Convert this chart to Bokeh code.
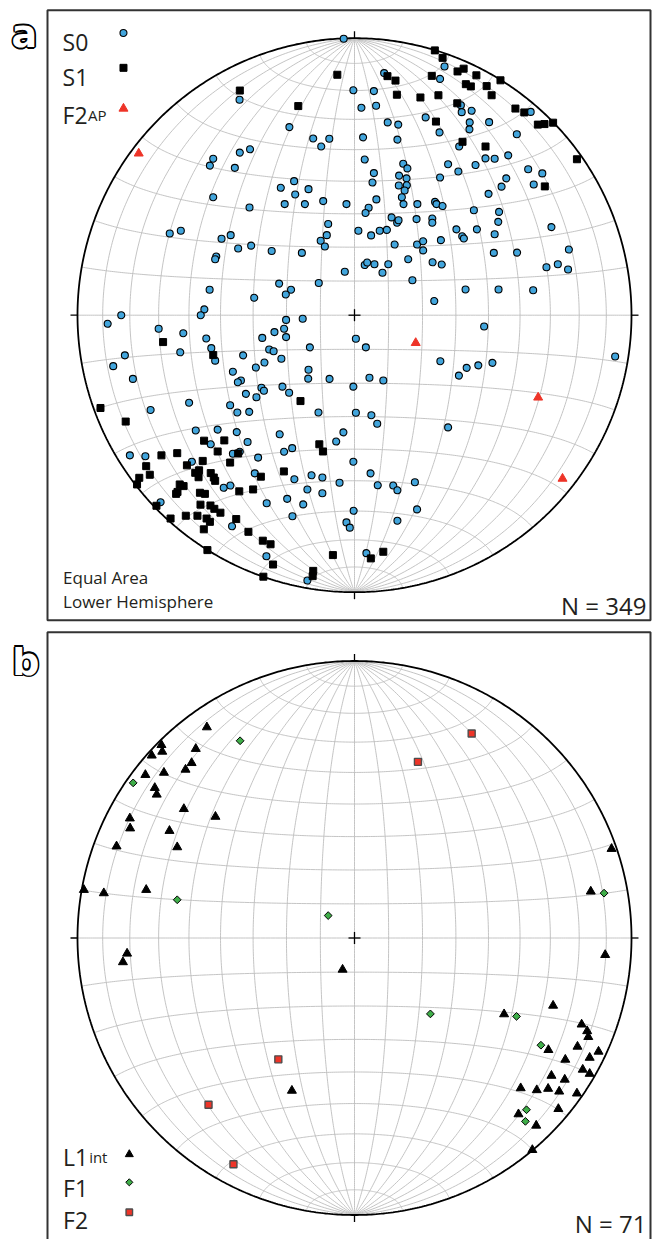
import numpy as np
from bokeh.plotting import figure
from bokeh.layouts import column
from bokeh.core.properties import value
from bokeh.embed import file_html
from bokeh.resources import INLINE

# ---------------- data: equal-area net coordinates (primitive circle radius = 1) -------------
# panel a : S0 poles
s0_x = [-0.039, -0.004, -0.415, -0.235, -0.149, -0.091, -0.120, -0.414, -0.377, -0.510,
        -0.522, -0.432, -0.218, -0.266, -0.166, -0.214, -0.252, -0.179, -0.113, -0.029,
        -0.510, -0.379, 0.107, 0.325, 0.309, 0.070, 0.025, 0.078, 0.384, 0.387,
        0.423, 0.257, 0.120, 0.158, 0.416, 0.415, 0.486, 0.636, 0.307, 0.586,
        0.031, 0.155, 0.378, 0.473, 0.506, 0.555, 0.037, 0.176, 0.191, 0.338,
        0.437, 0.375, 0.070, 0.161, 0.188, 0.065, 0.160, 0.189, 0.181, 0.171,
        0.309, 0.627, 0.678, 0.548, 0.531, 0.647, 0.484, 0.079, 0.177, 0.227,
        0.291, 0.296, 0.318, 0.051, 0.040, 0.431, 0.522, -0.667, -0.627, -0.480,
        -0.447, -0.420, -0.373, -0.299, -0.190, -0.095, -0.100, -0.122, -0.107, -0.499,
        -0.503, -0.035, -0.272, -0.229, -0.248, -0.129, -0.523, -0.362, -0.542, -0.555,
        -0.842, -0.891, -0.707, -0.618, -0.247, -0.187, -0.254, -0.289, -0.247, -0.333,
        -0.535, -0.517, -0.503, -0.629, -0.829, -0.871, -0.800, -0.308, -0.292, -0.161,
        -0.402, -0.264, -0.325, -0.356, -0.439, -0.410, -0.421, -0.166, -0.167, -0.090,
        -0.336, -0.327, -0.260, -0.236, -0.392, -0.354, -0.597, -0.449, -0.736, -0.423,
        -0.380, -0.130, -0.004, 0.134, 0.154, 0.159, 0.224, 0.281, 0.281, 0.014,
        0.060, 0.091, 0.117, 0.368, 0.389, 0.395, 0.442, 0.506, 0.519, 0.711,
        0.145, 0.226, 0.248, 0.248, 0.312, 0.503, 0.587, 0.774, 0.037, 0.046,
        0.072, 0.122, 0.101, 0.194, 0.282, 0.315, 0.693, 0.734, 0.771, 0.209,
        0.401, 0.520, 0.645, 0.288, 0.468, 0.005, 0.041, 0.310, 0.377, 0.405,
        0.447, 0.498, 0.941, 0.054, 0.104, 0.005, 0.061, -0.573, -0.494, -0.425,
        -0.270, -0.040, -0.066, -0.519, -0.386, -0.811, -0.755, -0.587, -0.439, -0.414,
        -0.254, -0.225, -0.348, -0.004, -0.360, -0.217, -0.155, -0.116, -0.054, -0.472,
        -0.448, -0.170, -0.116, -0.243, -0.317, -0.185, -0.700, -0.003, -0.224, -0.442,
        -0.029, -0.017, -0.318, -0.170, 0.082, 0.338, 0.058, 0.084, 0.140, 0.155,
        0.218, 0.226, 0.155, 0.043]
s0_y = [0.998, 0.812, 0.778, 0.679, 0.638, 0.637, 0.609, 0.587, 0.599, 0.565,
        0.540, 0.532, 0.484, 0.460, 0.455, 0.436, 0.401, 0.401, 0.412, 0.401,
        0.426, 0.389, 0.874, 0.898, 0.853, 0.809, 0.749, 0.756, 0.758, 0.733,
        0.738, 0.714, 0.696, 0.688, 0.696, 0.671, 0.697, 0.734, 0.660, 0.653,
        0.642, 0.634, 0.609, 0.566, 0.565, 0.577, 0.562, 0.547, 0.530, 0.545,
        0.542, 0.519, 0.513, 0.504, 0.494, 0.479, 0.468, 0.469, 0.450, 0.426,
        0.497, 0.527, 0.512, 0.494, 0.464, 0.472, 0.438, 0.418, 0.401, 0.401,
        0.409, 0.401, 0.394, 0.388, 0.369, 0.379, 0.373, 0.295, 0.305, 0.276,
        0.289, 0.241, 0.251, 0.232, 0.225, 0.329, 0.289, 0.269, 0.248, 0.212,
        0.202, 0.157, 0.114, 0.092, 0.075, 0.116, 0.092, 0.063, 0.021, 0.000,
        0.000, -0.031, -0.049, -0.065, -0.017, -0.013, -0.049, -0.061, -0.079, -0.082,
        -0.084, -0.119, -0.164, -0.134, -0.145, -0.184, -0.230, -0.124, -0.130, -0.116,
        -0.145, -0.157, -0.171, -0.189, -0.204, -0.236, -0.242, -0.197, -0.229, -0.230,
        -0.262, -0.273, -0.258, -0.280, -0.284, -0.296, -0.316, -0.325, -0.342, -0.351,
        -0.349, -0.351, -0.258, 0.353, 0.334, 0.343, 0.347, 0.349, 0.334, 0.305,
        0.288, 0.305, 0.308, 0.310, 0.285, 0.277, 0.310, 0.292, 0.337, 0.318,
        0.255, 0.255, 0.267, 0.234, 0.271, 0.225, 0.226, 0.237, 0.181, 0.190,
        0.184, 0.184, 0.153, 0.202, 0.191, 0.183, 0.173, 0.184, 0.165, 0.126,
        0.093, 0.093, 0.090, 0.051, -0.041, -0.085, -0.116, -0.166, -0.218, -0.190,
        -0.181, -0.172, -0.149, -0.226, -0.236, -0.352, -0.361, -0.416, -0.413, -0.422,
        -0.430, -0.423, -0.456, -0.466, -0.458, -0.506, -0.509, -0.529, -0.500, -0.493,
        -0.493, -0.480, -0.514, -0.529, -0.571, -0.592, -0.578, -0.586, -0.605, -0.623,
        -0.615, -0.629, -0.643, -0.663, -0.679, -0.683, -0.675, -0.706, -0.726, -0.762,
        -0.748, -0.767, -0.870, -0.958, -0.392, -0.405, -0.571, -0.614, -0.615, -0.632,
        -0.603, -0.701, -0.742, -0.859]

# panel a : S1 poles
s1_x = [-0.414, -0.203, -0.062, 0.290, 0.318, 0.372, 0.394, 0.440, 0.527, 0.279,
        0.119, 0.148, 0.402, 0.420, 0.477, 0.495, 0.153, 0.238, 0.303, 0.371,
        0.581, 0.613, 0.662, 0.686, 0.717, 0.294, 0.390, 0.473, 0.803, 0.687,
        -0.691, -0.510, -0.917, -0.195, -0.826, -0.697, -0.640, -0.543, -0.470, -0.494,
        -0.548, -0.449, -0.420, -0.605, -0.752, -0.739, -0.777, -0.785, -0.575, -0.561,
        -0.563, -0.519, -0.508, -0.503, -0.338, -0.255, -0.127, -0.114, -0.631, -0.617,
        -0.639, -0.644, -0.558, -0.540, -0.416, -0.366, -0.556, -0.520, -0.506, -0.484,
        -0.715, -0.664, -0.609, -0.567, -0.534, -0.522, -0.544, -0.427, -0.383, -0.331,
        -0.303, -0.531, -0.294, -0.329, -0.149, -0.151, -0.078, 0.059, 0.104]
s1_y = [0.811, 0.755, 0.868, 0.956, 0.929, 0.880, 0.890, 0.866, 0.848, 0.864,
        0.863, 0.847, 0.834, 0.826, 0.827, 0.794, 0.796, 0.786, 0.794, 0.765,
        0.746, 0.732, 0.688, 0.690, 0.695, 0.699, 0.626, 0.609, 0.563, 0.465,
        -0.097, -0.144, -0.335, -0.310, -0.384, -0.506, -0.498, -0.453, -0.452, -0.492,
        -0.526, -0.532, -0.499, -0.542, -0.545, -0.576, -0.587, -0.611, -0.569, -0.560,
        -0.585, -0.570, -0.586, -0.598, -0.583, -0.564, -0.466, -0.492, -0.611, -0.617,
        -0.638, -0.645, -0.641, -0.645, -0.636, -0.629, -0.684, -0.687, -0.699, -0.713,
        -0.688, -0.734, -0.724, -0.724, -0.734, -0.746, -0.773, -0.736, -0.782, -0.814,
        -0.827, -0.848, -0.900, -0.944, -0.923, -0.942, -0.866, -0.878, -0.854]

# panel a : F2 axial planes
f2ap_x = [-0.779, 0.221, 0.663, 0.751]
f2ap_y = [0.584, -0.100, -0.297, -0.590]

# panel b : L1 intersection lineations
l1_x = [-0.533, -0.697, -0.694, -0.732, -0.573, -0.588, -0.610, -0.755, -0.688, -0.721,
        -0.714, -0.616, -0.502, -0.811, -0.810, -0.668, -0.859, -0.640, -0.977, -0.905,
        -0.752, 0.928, 0.853, -0.821, -0.836, -0.043, -0.226, 0.905, 0.717, 0.540,
        0.820, 0.840, 0.844, 0.805, 0.881, 0.700, 0.761, 0.849, 0.824, 0.849,
        0.711, 0.759, 0.600, 0.658, 0.699, 0.739, 0.803, 0.736, 0.592, 0.656,
        0.642]
l1_y = [0.761, 0.697, 0.673, 0.659, 0.683, 0.632, 0.608, 0.589, 0.597, 0.542,
        0.518, 0.466, 0.438, 0.432, 0.396, 0.387, 0.331, 0.328, 0.174, 0.162,
        0.174, 0.322, 0.168, -0.056, -0.087, -0.114, -0.551, -0.061, -0.244, -0.275,
        -0.312, -0.336, -0.357, -0.392, -0.410, -0.404, -0.439, -0.432, -0.475, -0.490,
        -0.497, -0.511, -0.542, -0.549, -0.544, -0.554, -0.561, -0.617, -0.636, -0.677,
        -0.765]

# panel b : F1 and F2 fold axes
f1_x = [-0.413, -0.799, -0.640, -0.095, 0.901, 0.274, 0.585, 0.673, 0.621, 0.617]
f1_y = [0.712, 0.560, 0.138, 0.081, 0.162, -0.274, -0.283, -0.387, -0.620, -0.662]
f2_x = [0.423, 0.229, -0.275, -0.527, -0.437]
f2_y = [0.738, 0.636, -0.438, -0.602, -0.817]

labels_a = ["S0", "S1", "F2"]
labels_b = ["L1", "F1", "F2"]
n_a = "N = 349"
n_b = "N = 71"

# ---------------- styling / layout ----------------
FONT = "Open Sans"
INK = "#231f20"
GRID = "#bdbdbd"
BLUE = "#42a5dc"
RED = "#ee3428"
GREEN = "#3fae49"
SCALE = 277.0   # pixels per net radius
W = 656


def make_panel(height, cx, cy):
    p = figure(width=W, height=height,
               x_range=(-cx / SCALE, (W - cx) / SCALE),
               y_range=(-(height - cy) / SCALE, cy / SCALE),
               output_backend="svg", toolbar_location=None, tools="",
               x_axis_location=None, y_axis_location=None,
               min_border=0, outline_line_color=None)
    p.grid.visible = False
    p.background_fill_color = "white"
    p.border_fill_color = "white"
    return p


def draw_net(p):
    th = np.linspace(0, np.pi, 241)
    xs, ys = [], []
    for a in range(10, 180, 10):
        r = np.radians(a)
        # great circle through N and S poles
        e = np.sin(th) * np.cos(r)
        n = np.cos(th)
        d = np.sin(th) * np.sin(r)
        k = np.sqrt(1 + d)
        xs.append(e / k)
        ys.append(n / k)
        # small circle about the N-S axis
        e = np.sin(r) * np.cos(th)
        n = np.cos(r) * np.ones_like(th)
        d = np.sin(r) * np.sin(th)
        k = np.sqrt(1 + d)
        xs.append(e / k)
        ys.append(n / k)
    p.multi_line(xs, ys, line_color=GRID, line_width=0.9)
    t = np.linspace(0, 2 * np.pi, 721)
    p.line(np.cos(t), np.sin(t), line_color="black", line_width=1.8)
    tk = 7 / SCALE
    p.segment(x0=[0, 0, 1, -1], y0=[1, -1, 0, 0],
              x1=[0, 0, 1 + tk, -1 - tk], y1=[1 + tk, -1 - tk, 0, 0],
              line_color="black", line_width=1.3)
    c = 6 / SCALE
    p.segment(x0=[-c, 0], y0=[0, -c], x1=[c, 0], y1=[0, c],
              line_color="black", line_width=1.3)


def txt(p, x, y, s, size, align="left", baseline="alphabetic", color=INK):
    p.text(x=[x], y=[y], text=[s], text_font=value(FONT), text_font_size=value(size),
           text_align=align, text_baseline=baseline, text_color=color)


def outlined_label(p, x, y, s):
    offs = [(-1.6, 0), (1.6, 0), (0, -1.6), (0, 1.6), (-1.2, -1.2), (1.2, 1.2), (-1.2, 1.2), (1.2, -1.2)]
    for ox, oy in offs:
        p.text(x=[x], y=[y], text=[s], x_offset=ox, y_offset=oy, text_color="black",
               text_font=value("DejaVu Sans"), text_font_style=value("bold"),
               text_font_size=value("38px"), text_baseline="alphabetic")
    p.text(x=[x], y=[y], text=[s], text_color="white",
           text_font=value("DejaVu Sans"), text_font_style=value("bold"),
           text_font_size=value("38px"), text_baseline="alphabetic")


BOX_L, BOX_R = -1.1083, 1.0686

# ---------------- panel a ----------------
pa = make_panel(624, 354.0, 314.7)
pa.quad(left=[BOX_L], right=[BOX_R], top=[1.1011], bottom=[-1.1011],
        fill_color=None, line_color="#333333", line_width=2)
draw_net(pa)
pa.scatter(s0_x, s0_y, marker="circle", size=7, fill_color=BLUE, line_color="black", line_width=1.1)
pa.scatter(s1_x, s1_y, marker="square", size=7, fill_color="black", line_color="black")
pa.scatter(f2ap_x, f2ap_y, marker="triangle", size=9, fill_color=RED, line_color=RED)

txt(pa, -1.054, 0.987, labels_a[0], "23px")
txt(pa, -1.054, 0.861, labels_a[1], "23px")
txt(pa, -1.054, 0.723, labels_a[2], "23px")
txt(pa, -0.962, 0.723, "AP", "15px")
pa.scatter([-0.834], [1.019], marker="circle", size=7, fill_color=BLUE, line_color="black", line_width=1.1)
pa.scatter([-0.834], [0.893], marker="square", size=7, fill_color="black", line_color="black")
pa.scatter([-0.834], [0.746], marker="triangle", size=9, fill_color=RED, line_color=RED)
txt(pa, -1.052, -0.948, "Equal Area", "17px")
txt(pa, -1.052, -1.032, "Lower Hemisphere", "17px")
txt(pa, 1.054, -1.047, n_a, "24px", align="right")
outlined_label(pa, -1.238, 1.0152, "a")

# ---------------- panel b ----------------
pb = make_panel(615, 354.0, 313.5)
pb.quad(left=[BOX_L], right=[BOX_R], top=[1.104], bottom=[-1.25],
        fill_color=None, line_color="#333333", line_width=2)
draw_net(pb)
pb.scatter(l1_x, l1_y, marker="triangle", size=9, fill_color="black", line_color="black")
pb.scatter(f1_x, f1_y, marker="square", angle=np.pi / 4, size=5.5, fill_color=GREEN,
           line_color="black", line_width=1)
pb.scatter(f2_x, f2_y, marker="square", size=7, fill_color=RED, line_color="#4d4d4d", line_width=1.4)

txt(pb, -1.052, -0.791, labels_b[0], "23px")
txt(pb, -0.958, -0.791, "int", "15px")
txt(pb, -1.052, -0.902, labels_b[1], "23px")
txt(pb, -1.052, -1.017, labels_b[2], "23px")
pb.scatter([-0.813], [-0.781], marker="triangle", size=8, fill_color="black", line_color="black")
pb.scatter([-0.813], [-0.882], marker="square", angle=np.pi / 4, size=5, fill_color=GREEN,
           line_color="black", line_width=1)
pb.scatter([-0.813], [-0.990], marker="square", size=6.5, fill_color=RED, line_color="#4d4d4d", line_width=1.4)
txt(pb, 1.054, -1.032, n_b, "24px", align="right")
outlined_label(pb, -1.236, 0.998, "b")

layout = column(pa, pb, spacing=0)
open("out.html", "w").write(file_html(layout, INLINE))
